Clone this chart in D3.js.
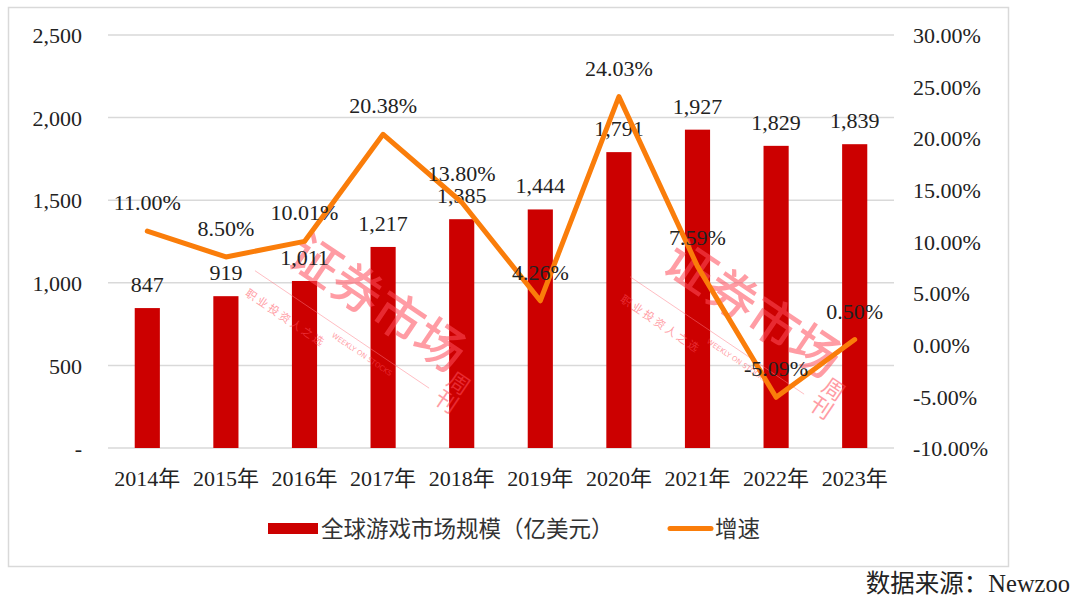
<!DOCTYPE html>
<html><head><meta charset="utf-8">
<script src="https://cdn.jsdelivr.net/npm/d3@7"></script>
<style>
html,body{margin:0;padding:0;background:#fff;}
svg text{font-family:"Liberation Serif","Times New Roman","Noto Sans CJK SC",serif;fill:#222;}
</style></head>
<body><svg id="c" width="1080" height="608"></svg>
<script>
const categories = ["2014年","2015年","2016年","2017年","2018年","2019年","2020年","2021年","2022年","2023年"];
const marketSize = [847, 919, 1011, 1217, 1385, 1444, 1791, 1927, 1829, 1839];
const growth = [11.00, 8.50, 10.01, 20.38, 13.80, 4.26, 24.03, 7.59, -5.09, 0.50];
const leftTicks = [0, 500, 1000, 1500, 2000, 2500];
const rightTicks = [-10, -5, 0, 5, 10, 15, 20, 25, 30];
const seriesNames = ["全球游戏市场规模（亿美元）", "增速"];
const sourceText = "数据来源：Newzoo";

const svg = d3.select("#c");
const barColor = "#CC0000", lineColor = "#FA7D0A", gridColor = "#D9D9D9";
const L = 108, R = 894, T = 35, B = 448;

svg.append("rect").attr("x",8.5).attr("y",7.5).attr("width",1000).attr("height",559)
  .attr("fill","none").attr("stroke","#D9D9D9").attr("stroke-width",1.5);

const x = d3.scaleBand().domain(categories).range([L,R]).paddingInner(0.68).paddingOuter(0.34);
const yL = d3.scaleLinear().domain([0,2500]).range([B,T]);
const yR = d3.scaleLinear().domain([-10,30]).range([B,T]);
const cx = d => x(d) + x.bandwidth()/2;

// gridlines
svg.append("g").selectAll("line").data(leftTicks).join("line")
  .attr("x1",L).attr("x2",R).attr("y1",d=>yL(d)).attr("y2",d=>yL(d))
  .attr("stroke",gridColor).attr("stroke-width",1.5);

const fmt = d3.format(",");
// left axis
const axL = svg.append("g").attr("transform",`translate(${L},0)`)
  .call(d3.axisLeft(yL).tickValues(leftTicks).tickSize(0).tickPadding(26)
    .tickFormat(d => d===0 ? "-   " : fmt(d)));
axL.select(".domain").remove();
axL.selectAll("text").attr("font-size",22).attr("font-family",null).attr("dy","0.35em").style("fill","#222");

// right axis
const axR = svg.append("g").attr("transform",`translate(${R},0)`)
  .call(d3.axisRight(yR).tickValues(rightTicks).tickSize(0).tickPadding(19)
    .tickFormat(d => d.toFixed(2)+"%"));
axR.select(".domain").remove();
axR.selectAll("text").attr("font-size",22).attr("font-family",null).attr("dy","0.35em").style("fill","#222");

// x axis
const axX = svg.append("g").attr("transform",`translate(0,${B})`)
  .call(d3.axisBottom(x).tickSize(0).tickPadding(22));
axX.select(".domain").remove();
axX.selectAll("text").attr("font-size",22).attr("font-family",null).style("fill","#222");

// watermark stamps
function stamp(tx, ty){
  const g = svg.append("g").attr("transform",`translate(${tx},${ty}) rotate(34)`).attr("opacity",0.55);
  g.append("text").text("证券市场").attr("x",0).attr("y",0).attr("font-size",50)
    .style("fill","#FF4D5A").style("font-family","Noto Sans CJK SC").style("font-weight","500");
  g.append("text").text("周刊").attr("x",212).attr("y",-8).attr("font-size",22)
    .attr("writing-mode","tb").style("fill","#FF4D5A").style("font-family","Noto Sans CJK SC");
  g.append("line").attr("x1",-20).attr("x2",190).attr("y1",24).attr("y2",24).attr("stroke","#FF7A85").attr("stroke-width",0.8);
  g.append("text").text("职   业   投   资   人   之   选").attr("x",-15).attr("y",50).attr("font-size",11)
    .style("fill","#FF4D5A").style("font-family","Noto Sans CJK SC");
  g.append("text").text("WEEKLY ON STOCKS").attr("x",80).attr("y",36).attr("font-size",7)
    .style("fill","#FF4D5A").style("font-family","DejaVu Sans");
}
// bars
svg.append("g").selectAll("rect").data(marketSize).join("rect")
  .attr("x",(d,i)=>x(categories[i])).attr("width",x.bandwidth())
  .attr("y",d=>yL(d)).attr("height",d=>B-yL(d)).attr("fill",barColor);

stamp(285,262);
stamp(660,268);

// bar labels
svg.append("g").selectAll("text").data(marketSize).join("text")
  .attr("x",(d,i)=>cx(categories[i])).attr("y",d=>yL(d)-16)
  .attr("text-anchor","middle").attr("font-size",22).text(d=>fmt(d));

// line
const line = d3.line().x((d,i)=>cx(categories[i])).y(d=>yR(d));
svg.append("path").datum(growth).attr("d",line).attr("fill","none")
  .attr("stroke",lineColor).attr("stroke-width",5).attr("stroke-linejoin","round").attr("stroke-linecap","round");

// line labels
svg.append("g").selectAll("text").data(growth).join("text")
  .attr("x",(d,i)=>cx(categories[i])).attr("y",d=>yR(d)-21)
  .attr("text-anchor","middle").attr("font-size",22).text(d=>d.toFixed(2)+"%");

// legend
const lg = svg.append("g");
lg.append("rect").attr("x",268).attr("y",523).attr("width",50).attr("height",11).attr("fill",barColor);
lg.append("text").attr("x",321).attr("y",537).attr("font-size",22.5).style("fill","#333")
  .style("font-family","Noto Sans CJK SC").text(seriesNames[0]);
lg.append("line").attr("x1",670).attr("x2",711).attr("y1",528.5).attr("y2",528.5)
  .attr("stroke",lineColor).attr("stroke-width",5).attr("stroke-linecap","round");
lg.append("text").attr("x",715).attr("y",537).attr("font-size",22.5).style("fill","#333")
  .style("font-family","Noto Sans CJK SC").text(seriesNames[1]);

// source
svg.append("text").attr("x",1070).attr("y",592).attr("text-anchor","end").attr("font-size",24.5)
  .text(sourceText);
</script></body></html>
